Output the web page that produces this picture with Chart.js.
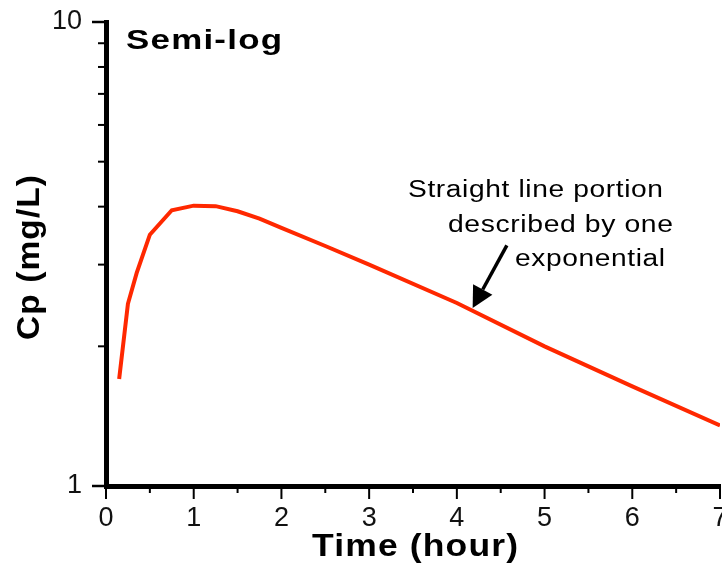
<!DOCTYPE html>
<html>
<head>
<meta charset="utf-8">
<title>Semi-log</title>
<script src="https://cdn.jsdelivr.net/npm/chart.js@4.4.1/dist/chart.umd.min.js"></script>
<style>
	html,body{margin:0;padding:0;background:#fff;}
	#wrap{width:722px;height:575px;position:relative;}
</style>
</head>
<body>
<div id="wrap"><canvas id="ctx"></canvas></div>
<script>

// DATA
// --------------------
var times = [0.15, 0.25, 0.35, 0.5, 0.75, 1, 1.25, 1.5, 1.75, 2, 2.5, 3, 4, 5, 6, 7];
var cp    = [1.70, 2.47, 2.88, 3.48, 3.93, 4.02, 4.01, 3.91, 3.77, 3.60, 3.29, 3.00, 2.48, 2.00, 1.64, 1.35];

var xTicks = [0, 1, 2, 3, 4, 5, 6, 7];
var xMinor = [0.5, 1.5, 2.5, 3.5, 4.5, 5.5, 6.5];
var yTicks = [1, 10];
var yMinor = [2, 3, 4, 5, 6, 7, 8, 9];

var title = 'Semi-log';
var note = ['Straight line portion', 'described by one', 'exponential'];
var xTitle = 'Time (hour)';
var yTitle = 'Cp (mg/L)';

// arrow from the note down to the line (data units)
var arrowFrom = {x: 4.57, y: 3.30};
var arrowTo = {x: 4.18, y: 2.42};

var SANS = "'Liberation Sans', Arial, sans-serif";
var RED = '#ff2800';

// METHODS
// --------------------
// draws text stretched to a given width, the old screen font was wide
function fitText(ctx, text, x, y, font, spacing, width){
	ctx.save();
	ctx.font = font;
	ctx.letterSpacing = spacing + 'px';
	var w = ctx.measureText(text).width - spacing;
	ctx.translate(x, y);
	ctx.scale(width / w, 1);
	ctx.fillText(text, 0, 0);
	ctx.restore();
}

function line(ctx, x1, y1, x2, y2, w){
	ctx.lineWidth = w;
	ctx.beginPath();
	ctx.moveTo(x1, y1);
	ctx.lineTo(x2, y2);
	ctx.stroke();
}

var extras = {
	id: 'extras',
	afterDraw: function(chart){
		var ctx = chart.ctx;
		var sx = chart.scales.x;
		var sy = chart.scales.y;
		var area = chart.chartArea;

		ctx.save();
		ctx.strokeStyle = '#000';
		ctx.fillStyle = '#000';
		ctx.textAlign = 'left';
		ctx.textBaseline = 'alphabetic';

		// tick marks
		yTicks.forEach(function(v){
			var p = sy.getPixelForValue(v);
			line(ctx, area.left - 14, p, area.left, p, 2.5);
		});
		yMinor.forEach(function(v){
			var p = sy.getPixelForValue(v);
			line(ctx, area.left - 8, p, area.left, p, 2);
		});
		xTicks.forEach(function(v){
			var p = sx.getPixelForValue(v);
			line(ctx, p, area.bottom, p, area.bottom + 13, 2);
		});
		xMinor.forEach(function(v){
			var p = sx.getPixelForValue(v);
			line(ctx, p, area.bottom, p, area.bottom + 7, 2);
		});

		// texts
		fitText(ctx, title, area.left + 20, area.top + 27, 'bold 28px ' + SANS, 1, 156);
		fitText(ctx, note[0], 408, 197, '23px ' + SANS, 0.5, 255);
		fitText(ctx, note[1], 448, 232, '23px ' + SANS, 0.5, 225);
		fitText(ctx, note[2], 515, 266, '23px ' + SANS, 0.5, 150);
		fitText(ctx, xTitle, 312, 556, 'bold 31px ' + SANS, 1, 206);

		ctx.save();
		ctx.translate(39, 340);
		ctx.rotate(-Math.PI / 2);
		fitText(ctx, yTitle, 0, 0, 'bold 31px ' + SANS, 1, 165);
		ctx.restore();

		// arrow
		var x1 = sx.getPixelForValue(arrowFrom.x), y1 = sy.getPixelForValue(arrowFrom.y);
		var x2 = sx.getPixelForValue(arrowTo.x), y2 = sy.getPixelForValue(arrowTo.y);
		var ang = Math.atan2(y2 - y1, x2 - x1);
		var head = 21, half = 11;
		var bx = x2 - head * Math.cos(ang), by = y2 - head * Math.sin(ang);
		line(ctx, x1, y1, bx, by, 3.5);
		ctx.beginPath();
		ctx.moveTo(x2, y2);
		ctx.lineTo(bx + half * Math.sin(ang), by - half * Math.cos(ang));
		ctx.lineTo(bx - half * Math.sin(ang), by + half * Math.cos(ang));
		ctx.closePath();
		ctx.fill();

		ctx.restore();
	}
};

// CHART
// --------------------
var points = times.map(function(t, i){ return {x: t, y: cp[i]}; });

new Chart(document.getElementById('ctx'), {
	type: 'line',
	data: {
		datasets: [{
			data: points,
			borderColor: RED,
			borderWidth: 4,
			pointRadius: 0,
			tension: 0,
			fill: false
		}]
	},
	options: {
		responsive: true,
		maintainAspectRatio: false,
		animation: false,
		layout: {padding: {top: 22, right: 2, left: 0, bottom: 0}},
		plugins: {legend: {display: false}, tooltip: {enabled: false}},
		scales: {
			x: {
				type: 'linear',
				min: 0,
				max: 7,
				grid: {display: false},
				border: {display: true, color: '#000', width: 5},
				afterBuildTicks: function(scale){
					scale.ticks = xTicks.map(function(v){ return {value: v}; });
				},
				afterFit: function(scale){
					scale.height = 89;
					scale.paddingLeft = 0;
					scale.paddingRight = 0;
				},
				ticks: {
					color: '#111',
					padding: 8,
					maxRotation: 0,
					font: {family: SANS, size: 27},
					callback: function(v){ return String(v); }
				}
			},
			y: {
				type: 'logarithmic',
				min: 1,
				max: 10,
				grid: {display: false},
				border: {display: true, color: '#000', width: 5},
				afterBuildTicks: function(scale){
					scale.ticks = yTicks.map(function(v){ return {value: v}; });
				},
				afterFit: function(scale){
					scale.width = 106;
					scale.paddingTop = 0;
					scale.paddingBottom = 0;
				},
				ticks: {
					color: '#111',
					padding: 16,
					font: {family: SANS, size: 27},
					callback: function(v){ return String(v); }
				}
			}
		}
	},
	plugins: [extras]
});
</script>
</body>
</html>
